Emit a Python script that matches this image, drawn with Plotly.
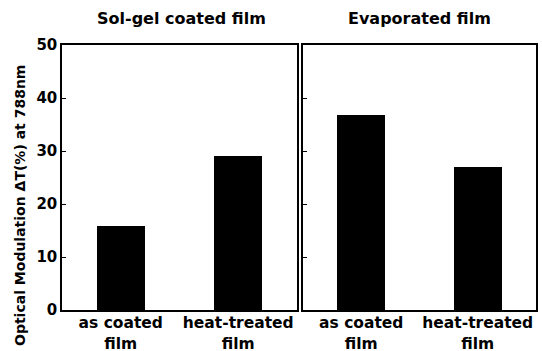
import plotly.graph_objects as go
from plotly.subplots import make_subplots

categories = ["as coated<br>film", "heat-treated<br>film"]
panel_titles = ["Sol-gel coated film", "Evaporated film"]
solgel_values = [15.8, 29.0]
evaporated_values = [36.7, 26.9]
y_ticks = [0, 10, 20, 30, 40, 50]
y_title = "Optical Modulation ΔT(%) at 788nm"

W, H = 542, 351
ml, mr, mt, mb = 62, 6, 45, 41
pw = W - ml - mr
ph = H - mt - mb

fig = make_subplots(rows=1, cols=2, shared_yaxes=False,
                    horizontal_spacing=6 / pw)

font = dict(family="DejaVu Sans, sans-serif", color="black", weight="bold")

for i, vals in enumerate([solgel_values, evaporated_values], start=1):
    fig.add_trace(go.Bar(x=categories, y=vals, marker=dict(color="black", line=dict(width=0)),
                         width=0.41, showlegend=False), row=1, col=i)

axis_common = dict(showline=True, linecolor="black", linewidth=1.5, mirror=True,
                   showgrid=False, zeroline=False, automargin=False)
fig.update_xaxes(**axis_common, ticks="", tickfont=dict(size=15.5, **font),
                 range=[-0.5, 1.5], ticklabelstandoff=-2)
fig.update_yaxes(**axis_common, range=[0, 50], tickvals=y_ticks, ticks="inside",
                 ticklen=4, tickcolor="black", tickfont=dict(size=15, **font))
fig.update_yaxes(showticklabels=False, row=1, col=2)

fig.layout.xaxis.domain = [0, (297 - ml) / pw]
fig.layout.xaxis2.domain = [(303 - ml) / pw, 1]

annotations = [
    dict(text=panel_titles[0], x=(181 - ml) / pw, y=1, yshift=27, xref="paper", yref="paper",
         showarrow=False, font=dict(size=16, **font), xanchor="center", yanchor="middle"),
    dict(text=panel_titles[1], x=(419 - ml) / pw, y=1, yshift=27, xref="paper", yref="paper",
         showarrow=False, font=dict(size=16, **font), xanchor="center", yanchor="middle"),
    dict(text=y_title, x=(20 - ml) / pw, y=(310 - 206) / ph, xref="paper", yref="paper",
         showarrow=False, textangle=-90, font=dict(size=14, **font),
         xanchor="center", yanchor="middle"),
]
fig.update_layout(annotations=annotations)

fig.update_layout(width=W, height=H, margin=dict(l=ml, r=mr, t=mt, b=mb, pad=0),
                  plot_bgcolor="white", paper_bgcolor="white", bargap=0,
                  font=font)

fig.write_html("out.html")
